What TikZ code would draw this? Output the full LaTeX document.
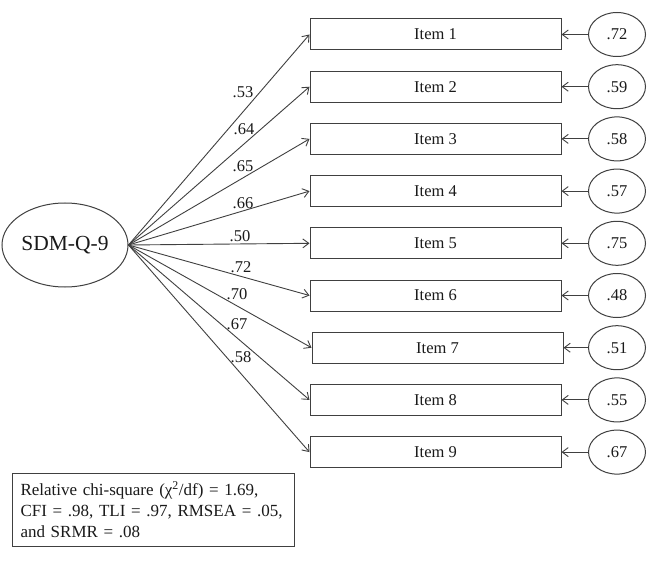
\documentclass[tikz,border=0pt]{standalone}
\usepackage{fontspec}
\setmainfont{Liberation Serif}
\usetikzlibrary{arrows.meta,shapes.geometric}
\definecolor{ln}{HTML}{404040}
\definecolor{tx}{HTML}{1A1A1A}
\tikzset{
  itembox/.style={draw=ln, line width=1pt, minimum width=251pt, minimum height=31pt, inner sep=0pt, font=\fontsize{16.5}{18}\selectfont, text=tx},
  errell/.style={draw=ln, line width=1pt, ellipse, minimum width=57pt, minimum height=44pt, inner sep=0pt, font=\fontsize{16.5}{18}\selectfont, text=tx},
  latent/.style={draw=ln, line width=1pt, ellipse, minimum width=126pt, minimum height=84pt, inner sep=0pt, font=\fontsize{21.5}{24}\selectfont, text=tx},
  arr/.style={draw=ln, line width=0.9pt, -{Straight Barb[length=6pt,width=9pt]}},
  load/.style={font=\fontsize{16.5}{18}\selectfont, text=tx, inner sep=0pt},
  fitbox/.style={draw=ln, line width=1pt, anchor=north west, minimum width=282pt, minimum height=73pt, text width=266pt, inner xsep=8pt, inner ysep=7pt, align=left, font=\fontsize{17}{21}\selectfont, text=tx}
}
\begin{document}
\begin{tikzpicture}[x=1pt,y=-1pt]
\useasboundingbox (0,0) rectangle (672,564);
\fill[white] (0,0) rectangle (672,564);
\node[latent] (sdm) at (65,245) {SDM-Q-9};
\foreach \k/\e/\dx in {1/.72/0,2/.59/0,3/.58/0,4/.57/0,5/.75/0,6/.48/0,7/.51/2,8/.55/0,9/.67/0}{
  \pgfmathsetmacro{\yy}{34.5+52.2*(\k-1)}
  \pgfmathsetmacro{\xx}{435.5+\dx}
  \node[itembox] (i\k) at (\xx,\yy) {Item \k};
  \node[errell] (e\k) at (617,\yy) {\e};
  \draw[arr] (e\k) -- (i\k.east);
  \draw[arr] (sdm.east) -- (i\k.west);
}
\node[load] (l1) at (243,92) {.53};
\node[load] (l2) at (244,129) {.64};
\node[load] (l3) at (243,166) {.65};
\node[load] (l4) at (243,203) {.66};
\node[load] (l5) at (240,236) {.50};
\node[load] (l6) at (241,267) {.72};
\node[load] (l7) at (237,294) {.70};
\node[load] (l8) at (237,324) {.67};
\node[load] (l9) at (241,357) {.58};
\node[fitbox] (fit) at (12,473) {Relative chi-square (χ\textsuperscript{2}/df) = 1.69,\\CFI = .98, TLI = .97, RMSEA = .05,\\and SRMR = .08};
\end{tikzpicture}
\end{document}
